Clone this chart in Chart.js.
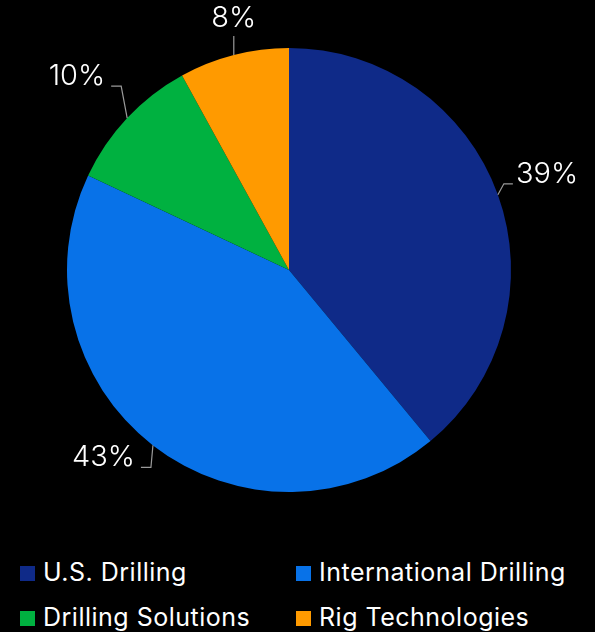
<!DOCTYPE html>
<html>
<head>
<meta charset="utf-8">
<script src="https://cdn.jsdelivr.net/npm/chart.js@4/dist/chart.umd.min.js"></script>
<style>
  html, body { margin: 0; padding: 0; background: #000; }
  body { width: 595px; height: 632px; position: relative; overflow: hidden; font-family: Inter, "Noto Sans", sans-serif; }
  #wrap { position: absolute; left: 0; top: 0; width: 595px; height: 540px; }
  .leg { position: absolute; color: #fff; font-size: 25px; line-height: 26px; letter-spacing: 0.5px; white-space: nowrap; }
  .leg i { position: absolute; left: -23px; top: 7px; width: 15px; height: 15px; }
</style>
</head>
<body>
<div id="wrap"><canvas id="pieChart"></canvas></div>
<div id="legend"></div>
<script>
  // Segmentos y participación (%)
  const segmentos = ['U.S. Drilling', 'International Drilling', 'Drilling Solutions', 'Rig Technologies'];
  const valores = [39, 43, 10, 8];
  const colores = ['#0F2A88', '#0872E8', '#00B140', '#FF9A00'];

  // Forma de cada línea guía: codo relativo al borde del arco, tramo horizontal y lado del texto
  const guias = [
    { dx: 6, dy: -11, h: 9, side: 'right' },
    { dx: -2, dy: 22, h: -10, side: 'left' },
    { dx: -6, dy: -32, h: -10, side: 'left' },
    { dx: 0, dy: -19, h: 0, side: 'top' }
  ];

  const etiquetasPlugin = {
    id: 'etiquetas',
    afterDatasetsDraw(chart) {
      const ctx = chart.ctx;
      const meta = chart.getDatasetMeta(0);
      ctx.save();
      meta.data.forEach((arc, i) => {
        const p = arc.getProps(['x', 'y', 'startAngle', 'endAngle', 'outerRadius'], true);
        const mid = (p.startAngle + p.endAngle) / 2;
        const x0 = p.x + Math.cos(mid) * p.outerRadius;
        const y0 = p.y + Math.sin(mid) * p.outerRadius;
        const g = guias[i];
        const x1 = x0 + g.dx, y1 = y0 + g.dy;
        const x2 = x1 + g.h;
        ctx.strokeStyle = '#9a9a9a';
        ctx.lineWidth = 1.2;
        ctx.beginPath();
        ctx.moveTo(x0, y0);
        ctx.lineTo(x1, y1);
        ctx.lineTo(x2, y1);
        ctx.stroke();
        ctx.fillStyle = '#fff';
        ctx.font = '300 29px Inter, "Noto Sans", sans-serif';
        const txt = valores[i] + '%';
        if (g.side === 'right') {
          ctx.textAlign = 'left'; ctx.textBaseline = 'middle';
          ctx.fillText(txt, x2 + 3, y1 - 10);
        } else if (g.side === 'left') {
          ctx.textAlign = 'right'; ctx.textBaseline = 'middle';
          ctx.fillText(txt, x2 - 6, y1 - 10);
        } else {
          ctx.textAlign = 'center'; ctx.textBaseline = 'middle';
          ctx.fillText(txt, x1, y1 - 18);
        }
      });
      ctx.restore();
    }
  };

  new Chart(document.getElementById('pieChart'), {
    type: 'pie',
    data: {
      labels: segmentos,
      datasets: [{
        data: valores,
        backgroundColor: colores,
        borderWidth: 0
      }]
    },
    options: {
      responsive: true,
      maintainAspectRatio: false,
      animation: false,
      layout: { padding: { top: 48, bottom: 48, left: 67, right: 84 } },
      plugins: {
        legend: { display: false },
        tooltip: { enabled: false }
      }
    },
    plugins: [etiquetasPlugin]
  });

  // Leyenda en dos columnas
  const posLeyenda = [[43, 559], [319, 559], [43, 604], [319, 604]];
  const leyenda = document.getElementById('legend');
  segmentos.forEach((s, i) => {
    const d = document.createElement('div');
    d.className = 'leg';
    d.style.left = posLeyenda[i][0] + 'px';
    d.style.top = posLeyenda[i][1] + 'px';
    d.innerHTML = '<i style="background:' + colores[i] + '"></i>' + s;
    leyenda.appendChild(d);
  });
</script>
</body>
</html>
